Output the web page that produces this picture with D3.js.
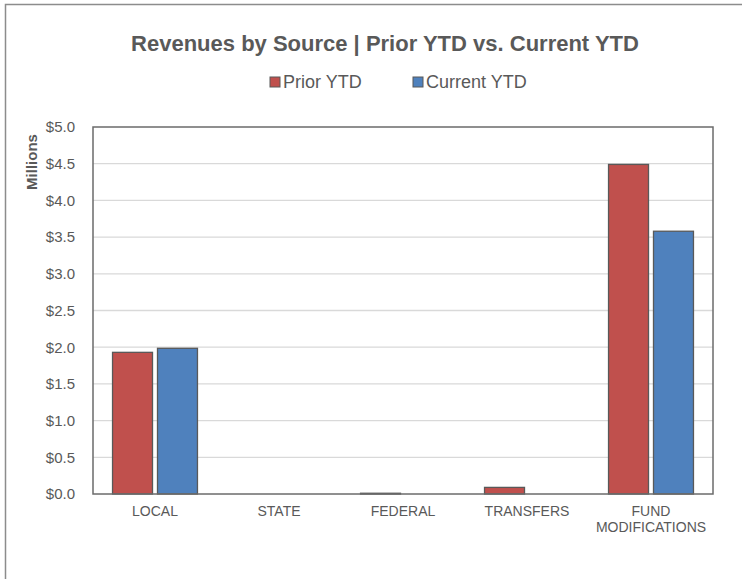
<!DOCTYPE html>
<html>
<head>
<meta charset="utf-8">
<script src="https://cdn.jsdelivr.net/npm/d3@7"></script>
<style>
  body { margin: 0; background: #fff; }
  svg { display: block; font-family: "Liberation Sans", Arial, sans-serif; }
</style>
</head>
<body>
<svg id="chart" width="742" height="579"></svg>
<script>
// data (millions of dollars)
const categories = ["LOCAL", "STATE", "FEDERAL", "TRANSFERS", "FUND MODIFICATIONS"];
const priorYTD = [1.93, 0, 0.01, 0.09, 4.49];
const currentYTD = [1.985, 0, 0, 0, 3.58];
const seriesNames = ["Prior YTD", "Current YTD"];
const seriesColors = ["#C0504D", "#4F81BD"];
const yTicks = [0, 0.5, 1, 1.5, 2, 2.5, 3, 3.5, 4, 4.5, 5];

const svg = d3.select("#chart");
const plot = {left: 93, top: 127, right: 713, bottom: 494};

// outer chart frame
svg.append("path")
  .attr("d", "M5.5,579 L5.5,4.5 L742,4.5")
  .attr("fill", "none")
  .attr("stroke", "#8c8c8c")
  .attr("stroke-width", 1.5);

const data = categories.map((c, i) => ({cat: c, values: [priorYTD[i], currentYTD[i]]}));

const x0 = d3.scaleBand()
  .domain(categories)
  .range([plot.left, plot.right])
  .paddingInner(0.315)
  .paddingOuter(0.1575);
const x1 = d3.scaleBand()
  .domain(seriesNames)
  .range([0, x0.bandwidth()])
  .paddingInner(0.111);
const y = d3.scaleLinear()
  .domain([0, 5])
  .range([plot.bottom, plot.top]);

// gridlines
svg.append("g")
  .selectAll("line")
  .data(yTicks.filter(d => d > 0 && d < 5))
  .enter()
  .append("line")
  .attr("x1", plot.left)
  .attr("x2", plot.right)
  .attr("y1", d => y(d))
  .attr("y2", d => y(d))
  .attr("stroke", "#d9d9d9")
  .attr("stroke-width", 1.3);

// bars
svg.append("g")
  .selectAll("g")
  .data(data)
  .enter()
  .append("g")
  .attr("transform", d => `translate(${x0(d.cat)},0)`)
  .selectAll("rect")
  .data(d => d.values.map((v, i) => ({name: seriesNames[i], value: v, color: seriesColors[i]})))
  .enter()
  .filter(d => d.value > 0)
  .append("rect")
  .attr("x", d => x1(d.name))
  .attr("y", d => y(d.value))
  .attr("width", x1.bandwidth())
  .attr("height", d => y(0) - y(d.value))
  .attr("fill", d => d.color)
  .attr("stroke", "#595959")
  .attr("stroke-width", 1.3);

// plot frame
svg.append("rect")
  .attr("x", plot.left)
  .attr("y", plot.top)
  .attr("width", plot.right - plot.left)
  .attr("height", plot.bottom - plot.top)
  .attr("fill", "none")
  .attr("stroke", "#6b6b6b")
  .attr("stroke-width", 1.5);

// y axis
const yAxis = d3.axisLeft(y)
  .tickValues(yTicks)
  .tickSize(0)
  .tickPadding(18)
  .tickFormat(d => "$" + d.toFixed(1));
const gy = svg.append("g")
  .attr("transform", `translate(${plot.left},0)`)
  .call(yAxis);
gy.select(".domain").remove();
gy.selectAll("text")
  .attr("fill", "#595959")
  .style("font-size", "15px")
  .style("font-family", "'Liberation Sans', Arial, sans-serif");

// x axis
const xAxis = d3.axisBottom(x0).tickSize(0).tickPadding(0);
const gx = svg.append("g")
  .attr("transform", `translate(0,${plot.bottom})`)
  .call(xAxis);
gx.select(".domain").remove();
gx.selectAll("text").each(function(d) {
  const t = d3.select(this);
  t.text(null)
    .attr("fill", "#595959")
    .attr("y", 0)
    .attr("dy", null)
    .style("font-size", "14px")
    .style("font-family", "'Liberation Sans', Arial, sans-serif");
  const words = d === "FUND MODIFICATIONS" ? ["FUND", "MODIFICATIONS"] : [d];
  words.forEach((w, i) => {
    t.append("tspan").attr("x", 0).attr("y", 22 + i * 16).text(w);
  });
});

// y axis title
svg.append("text")
  .attr("transform", "translate(37,162) rotate(-90)")
  .attr("text-anchor", "middle")
  .attr("fill", "#595959")
  .style("font-size", "15px")
  .style("font-weight", "bold")
  .text("Millions");

// chart title
svg.append("text")
  .attr("x", 385)
  .attr("y", 51)
  .attr("text-anchor", "middle")
  .attr("fill", "#595959")
  .style("font-size", "22px")
  .style("font-weight", "bold")
  .text("Revenues by Source | Prior YTD vs. Current YTD");

// legend
const legendX = [270, 413];
const legend = svg.append("g")
  .selectAll("g")
  .data(seriesNames)
  .enter()
  .append("g")
  .attr("transform", (d, i) => `translate(${legendX[i]},77)`);
legend.append("rect")
  .attr("width", 10)
  .attr("height", 10)
  .attr("fill", (d, i) => seriesColors[i])
  .attr("stroke", "#595959")
  .attr("stroke-width", 1);
legend.append("text")
  .attr("x", 13)
  .attr("y", 11)
  .attr("fill", "#595959")
  .style("font-size", "18px")
  .text(d => d);
</script>
</body>
</html>
